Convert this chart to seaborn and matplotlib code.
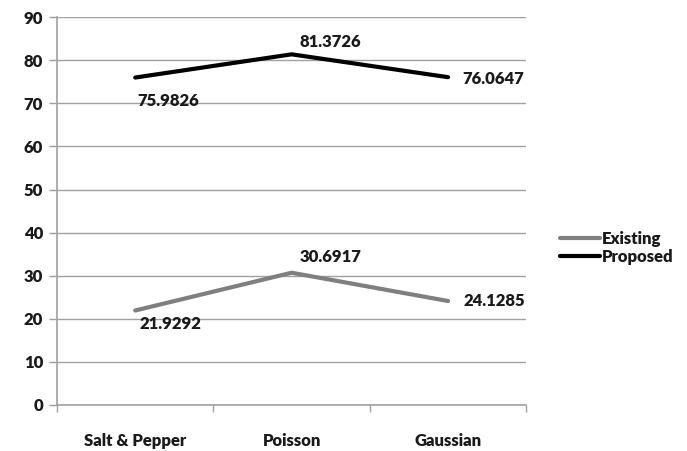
import matplotlib
matplotlib.use("Agg")
import matplotlib.pyplot as plt
import seaborn as sns
import pandas as pd

categories = ["Salt & Pepper", "Poisson", "Gaussian"]
existing = [21.9292, 30.6917, 24.1285]
proposed = [75.9826, 81.3726, 76.0647]
y_ticks = [0, 10, 20, 30, 40, 50, 60, 70, 80, 90]

df = pd.DataFrame({
    "noise": categories * 2,
    "accuracy": existing + proposed,
    "method": ["Existing"] * 3 + ["Proposed"] * 3,
})

sns.set_style("white")
plt.rcParams["font.family"] = ["Lato", "DejaVu Sans"]
plt.rcParams["font.weight"] = "bold"

fig = plt.figure(figsize=(6.87, 4.51), dpi=100)
ax = fig.add_axes([0.083, 0.102, 0.683, 0.86])

palette = {"Existing": "#7f7f7f", "Proposed": "#000000"}
sns.lineplot(data=df, x="noise", y="accuracy", hue="method", palette=palette,
             linewidth=3, ax=ax, sort=False, legend=True)

ax.set_xlim(-0.5, 2.5)
ax.set_ylim(0, 90)
ax.set_yticks(y_ticks)
ax.set_xlabel("")
ax.set_ylabel("")
ax.grid(axis="y", color="#a0a0a0", linewidth=1)
ax.set_axisbelow(True)

for side in ["top", "right"]:
    ax.spines[side].set_visible(False)
for side in ["left", "bottom"]:
    ax.spines[side].set_color("#a0a0a0")
    ax.spines[side].set_linewidth(1.2)

ax.tick_params(axis="y", length=6, color="#a0a0a0", width=1, labelsize=12, pad=4,
               left=True)
ax.set_xticks([0, 1, 2])
ax.set_xticks([-0.5, 0.5, 1.5, 2.5], minor=True)
ax.tick_params(axis="x", which="major", length=0, labelsize=12, pad=20)
ax.tick_params(axis="x", which="minor", length=5, color="#a0a0a0", width=1,
               bottom=True)
for lbl in ax.get_xticklabels() + ax.get_yticklabels():
    lbl.set_fontweight("heavy")
    lbl.set_color("#1a1a1a")

# value labels next to each point
offsets_p = [(24, -17, "center"), (28, 9, "center"), (10, -1, "left")]
offsets_e = [(25, -10, "center"), (28, 11, "center"), (11, 0, "left")]
for series, offs in ((proposed, offsets_p), (existing, offsets_e)):
    for i, (v, (dx, dy, ha)) in enumerate(zip(series, offs)):
        ax.annotate(f"{v:.4f}", xy=(i, v), xytext=(dx, dy), textcoords="offset points",
                    ha=ha, va="center", fontsize=12, fontweight="heavy", color="#1a1a1a")

leg = ax.legend(loc="center left", bbox_to_anchor=(1.04, 0.405), frameon=False,
                handlelength=2.4, handletextpad=0.1, labelspacing=0.15, fontsize=12)
for t in leg.get_texts():
    t.set_fontweight("heavy")
    t.set_color("#1a1a1a")

fig.savefig("out.png", dpi=100)
